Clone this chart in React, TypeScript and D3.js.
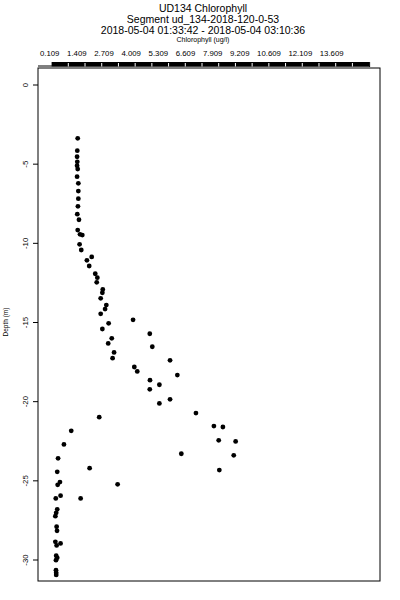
import React from "react";
import * as d3 from "d3";

const W = 400;
const H = 600;

// chlorophyll (ug/l) and depth (m)
const chlorophyll = [
  1.45, 1.43, 1.42, 1.43, 1.42, 1.45, 1.42, 1.48, 1.48, 1.48, 1.46, 1.43, 1.51, 1.45, 1.56, 1.67,
  1.54, 1.62, 2.12, 1.89, 2.0, 2.29, 2.39, 2.36, 2.65, 2.63, 2.55, 2.82, 2.76, 2.55, 4.1, 2.93,
  2.63, 4.9, 3.08, 2.91, 5.02, 3.19, 3.12, 5.87, 4.16, 4.3, 6.22, 4.91, 5.36, 4.9, 5.87, 5.36,
  7.11, 2.48, 7.97, 8.4, 1.14, 8.2, 9.01, 0.79, 6.41, 8.92, 0.51, 8.23, 2.02, 0.47, 0.6, 0.49,
  3.36, 0.63, 0.4, 1.59, 0.47, 0.42, 0.38, 0.44, 0.46, 0.38, 0.63, 0.44, 0.42, 0.47, 0.41, 0.41,
  0.42, 0.42,
];
const depth = [
  -3.37, -4.15, -4.53, -4.85, -5.1, -5.31, -5.79, -6.21, -6.7, -7.18, -7.66, -8.16, -8.51, -9.16,
  -9.43, -9.48, -10.06, -10.42, -10.86, -11.07, -11.43, -11.92, -12.17, -12.46, -12.91, -13.12,
  -13.47, -13.9, -14.15, -14.45, -14.83, -15.05, -15.41, -15.71, -16.0, -16.32, -16.53, -16.89,
  -17.25, -17.39, -17.81, -18.09, -18.32, -18.64, -18.93, -19.22, -19.85, -20.11, -20.72, -20.98,
  -21.54, -21.6, -21.84, -22.44, -22.51, -22.7, -23.29, -23.39, -23.58, -24.32, -24.2, -24.43,
  -25.08, -25.25, -25.22, -25.94, -26.11, -26.11, -26.8, -27.02, -27.23, -27.9, -28.16, -28.85,
  -28.95, -29.08, -29.73, -29.86, -30.01, -30.64, -30.81, -30.94,
];

const xTickLabels = [
  "0.109", "1.409", "2.709", "4.009", "5.309", "6.609", "7.909", "9.209", "10.609", "12.109", "13.609",
];
const yTicks = [0, -5, -10, -15, -20, -25, -30];

// dense tick band along the top axis
const bandStart = 0.2;
const bandStep = 0.8;
const bandCount = 19;

const titleLines = [
  "UD134 Chlorophyll",
  "Segment ud_134-2018-120-0-53",
  "2018-05-04 01:33:42 - 2018-05-04 03:10:36",
];

const font = "'Liberation Sans', Arial, Helvetica, sans-serif";

export default function App() {
  const box = { left: 38, right: 380, top: 68, bottom: 581 };

  const x = d3.scaleLinear().domain([0.109, 13.609]).range([49.7, 331.7]);
  const y = d3.scaleLinear().domain([0, -30]).range([85, 560]);

  const points = d3.zip(chlorophyll, depth);
  const bandTicks = d3.range(bandCount + 1).map((i) => bandStart + i * bandStep);
  const bx0 = x(bandTicks[0]);
  const bx1 = x(bandTicks[bandTicks.length - 1]);

  return (
    <svg
      width={W}
      height={H}
      style={{ position: "absolute", left: 0, top: 0, background: "#fff" }}
      fontFamily={font}
    >
      <rect width={W} height={H} fill="#fff" />

      {/* titles */}
      <g textAnchor="middle" fill="#000">
        <text x={203} y={12} fontSize={10.5}>{titleLines[0]}</text>
        <text x={203} y={23} fontSize={10.5}>{titleLines[1]}</text>
        <text x={203} y={34} fontSize={10.5}>{titleLines[2]}</text>
        <text x={203} y={41.5} fontSize={7}>Chlorophyll (ug/l)</text>
      </g>

      {/* top axis */}
      <g>
        <line x1={box.left} x2={bx1} y1={66} y2={66} stroke="#000" />
        <rect x={bx0} y={62} width={bx1 - bx0} height={4.5} fill="#000" />
        {bandTicks.slice(1, -1).map((t, i) => (
          <line key={i} x1={x(t)} x2={x(t)} y1={63} y2={66.5} stroke="#fff" strokeWidth={1} />
        ))}
        <line x1={bx1 + 0.5} x2={bx1 + 0.5} y1={62} y2={67} stroke="#000" />
        {xTickLabels.map((l) => (
          <text key={l} x={x(+l)} y={56} fontSize={7.8} textAnchor="middle">
            {l}
          </text>
        ))}
      </g>

      {/* plot box */}
      <rect
        x={box.left}
        y={box.top}
        width={box.right - box.left}
        height={box.bottom - box.top}
        fill="none"
        stroke="#000"
      />

      {/* y axis */}
      <g>
        {yTicks.map((t) => (
          <g key={t}>
            <line x1={box.left - 5} x2={box.left} y1={y(t)} y2={y(t)} stroke="#000" />
            <text
              transform={`translate(${box.left - 10},${y(t)}) rotate(-90)`}
              fontSize={7.8}
              textAnchor="middle"
            >
              {t}
            </text>
          </g>
        ))}
        <text transform={`translate(8,322) rotate(-90)`} fontSize={6.5} textAnchor="middle">
          Depth (m)
        </text>
      </g>

      {/* points */}
      <g fill="#000">
        {points.map(([c, d], i) => (
          <circle key={i} cx={x(c)} cy={y(d)} r={2.4} />
        ))}
      </g>
    </svg>
  );
}
